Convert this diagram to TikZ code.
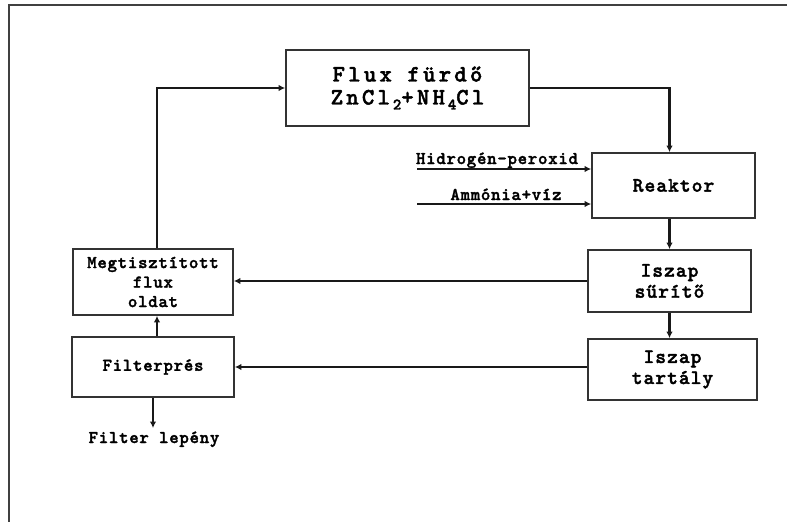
\documentclass[tikz,border=0pt]{standalone}
\usepackage{fontspec}
% heavy typewriter face, letter-spaced at three sizes
\newfontfamily\monosmall{lmmonolt10-bold.otf}[LetterSpace=4, FakeBold=1.8]
\newfontfamily\monomid{lmmonolt10-bold.otf}[LetterSpace=5, FakeBold=1.8]
\newfontfamily\monobig{lmmonolt10-bold.otf}[LetterSpace=14, FakeBold=2]
\usetikzlibrary{arrows.meta,calc}
% lowered, smaller digit for chemical formulas
\newcommand\chemsub[1]{\kern3pt\raisebox{-5pt}{\fontsize{16}{16}\selectfont #1}}
\tikzset{
  frameline/.style={draw=black!75, line width=1.2pt},
  box/.style={draw=black!80, line width=1.7pt, align=center, inner sep=0pt},
  flow/.style={draw=black!90, line width=2.2pt, -{Latex[length=6.5pt,width=6.5pt]}},
  smalltxt/.style={font={\monosmall\fontsize{18}{19.5}\selectfont}},
  midtxt/.style={font={\monomid\fontsize{20.5}{21}\selectfont}},
  bigtxt/.style={font={\monobig\fontsize{23.5}{23}\selectfont}},
  lbl/.style={smalltxt, inner sep=0pt, anchor=base},
}
\begin{document}
\begin{tikzpicture}[x=1pt,y=-1pt]
\useasboundingbox (0,0) rectangle (787,522);
% page frame
\draw[frameline] (787,5) -- (9,5) -- (9,522);

% process units
\node[box, bigtxt, minimum width=243pt, minimum height=76pt] (flux) at (407.5,88)
  {Flux fürdő\\ZnCl\chemsub{2}+NH\chemsub{4}Cl};
\node[box, midtxt, minimum width=163pt, minimum height=65pt] (reaktor) at (673.5,185.5) {Reaktor};
\node[box, midtxt, minimum width=163pt, minimum height=62pt] (sur) at (669.5,281) {Iszap\\sűrítő};
\node[box, midtxt, minimum width=169pt, minimum height=61pt] (tar) at (672.5,369.5) {Iszap\\tartály};
\node[box, smalltxt, minimum width=160pt, minimum height=66pt] (mt) at (153,282) {Megtisztított\\flux\\oldat};
\node[box, smalltxt, minimum width=162pt, minimum height=60pt] (fp) at (153,367) {Filterprés};

% feed streams into the reactor
\coordinate (h2) at (417,169);
\coordinate (am) at (417,204);
\node[lbl] (h2lbl) at (497,164) {Hidrogén-peroxid};
\node[lbl] (amlbl) at (506,200) {Ammónia+víz};
\draw[flow] (h2) -- (h2 -| reaktor.west);
\draw[flow] (am) -- (am -| reaktor.west);

% main flow
\draw[flow] (flux.east) -| (reaktor.north -| sur.north);
\draw[flow] (reaktor.south -| sur.north) -- (sur.north);
\draw[flow] (sur.west) -- (sur.west -| mt.east);
\draw[flow] (sur.south) -- (sur.south |- tar.north);
\draw[flow] (tar.west |- fp.east) -- (fp.east);
\draw[flow] ($(fp.north)+(4,0)$) -- ($(mt.south)+(4,0)$);
\draw[flow] ($(mt.north)+(4,0)$) |- (flux.west);

% filter cake output
\coordinate (cake) at (153,428);
\draw[flow] (fp.south) -- (cake);
\node[lbl] (cakelbl) at (154,443) {Filter lepény};
\end{tikzpicture}
\end{document}
